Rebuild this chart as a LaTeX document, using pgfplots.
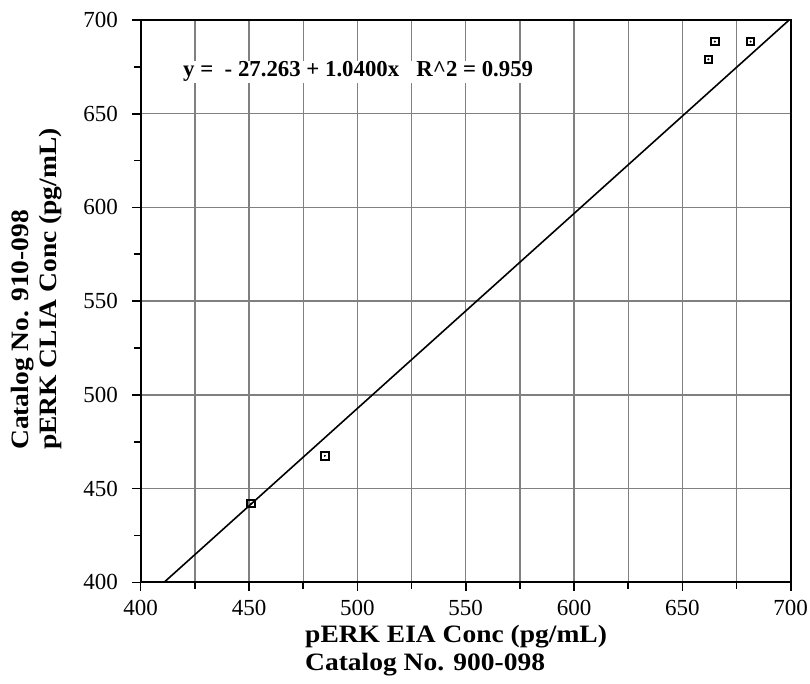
\documentclass[border=0pt]{standalone}
\usepackage{fontspec}
\setmainfont{Liberation Serif}
\newfontfamily\labfont[FakeStretch=1.1]{Liberation Serif}
\usepackage{pgfplots}
\pgfplotsset{compat=1.18}
\begin{document}
\begin{tikzpicture}
\begin{axis}[
 scale only axis, width=650pt, height=562.3pt,
 xmin=400,xmax=700,ymin=400,ymax=700,
 xtick={400,450,...,700}, ytick={400,450,...,700},
 minor xtick={425,475,...,675}, minor ytick={425,475,...,675},
 xmajorgrids, xminorgrids, ymajorgrids,
 grid style={draw=black!50, line width=1.4pt},
 minor grid style={draw=black!50, line width=1.4pt},
 tick align=outside, tick pos=left,
 major tick length=8.5pt, minor tick length=6.5pt,
 every tick/.style={black, line width=1.6pt},
 axis line style={line width=2.2pt},
 tick label style={font=\fontsize{23}{25}\selectfont, inner sep=0pt},
 yticklabel shift=14.2pt,
 xticklabel shift=9pt,
 /pgf/number format/assume math mode=true,
 /pgf/number format/1000 sep={},
 clip=true,
]
\addplot[black, line width=1.6pt] coordinates {(410.8,400) (700,700.74)};
\addplot[only marks, mark=square, mark size=3.8pt, mark options={black, line width=2.1pt}] coordinates {
(451,442) (485,467.5) (662,679) (665,688.5) (681.5,688.5)};
\addplot[only marks, mark=*, mark size=0.8pt, mark options={black}] coordinates {
(451,442) (485,467.5) (662,679) (665,688.5) (681.5,688.5)};
\coordinate (SW) at (rel axis cs:0,0);
\coordinate (XL) at (rel axis cs:0.2528,-0.0764);
\coordinate (YL) at (rel axis cs:-0.1995,0.2353);
\coordinate (EQ) at (rel axis cs:0.0605,0.8992);
\end{axis}
\node[anchor=base west, fill=white, inner xsep=3pt, inner ysep=1pt, font=\bfseries\fontsize{22.8}{26}\selectfont] at (EQ) {y =\ \ - 27.263 + 1.0400x\ \ \ R\textasciicircum 2 = 0.959};
\node[anchor=north west, inner sep=0pt, align=left, font=\labfont\bfseries\fontsize{25}{27.5}\selectfont] at (XL) {pERK EIA Conc (pg/mL)\\Catalog No. 900-098};
\node[rotate=90, anchor=north west, inner sep=0pt, align=left, font=\labfont\bfseries\fontsize{25}{28}\selectfont] at (YL) {Catalog No. 910-098\\pERK CLIA Conc (pg/mL)};
\pgfresetboundingbox
\path ([shift={(-140.7pt,-100.7pt)}]SW) rectangle ++(810pt,683pt);
\end{tikzpicture}
\end{document}
